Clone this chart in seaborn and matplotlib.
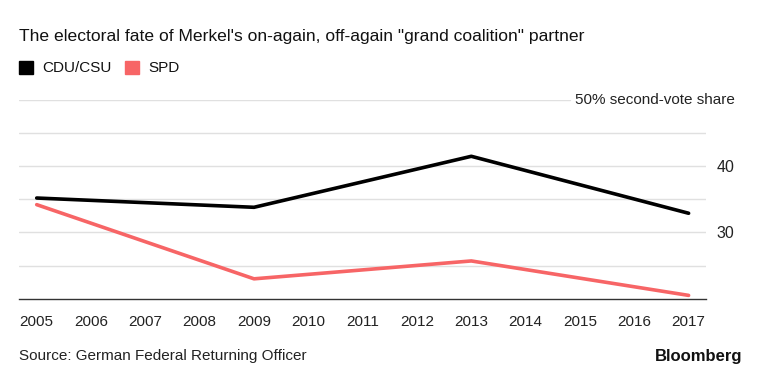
import pandas as pd
import matplotlib.pyplot as plt
import seaborn as sns
from matplotlib.patches import Rectangle

# values
years = [2005, 2009, 2013, 2017]
cdu_csu = [35.2, 33.8, 41.5, 32.9]
spd = [34.2, 23.0, 25.7, 20.5]
parties = ["CDU/CSU", "SPD"]
colors = ["#000000", "#f76566"]
year_ticks = list(range(2005, 2018))

df = pd.DataFrame({
    "year": years * 2,
    "share": cdu_csu + spd,
    "party": [parties[0]] * len(years) + [parties[1]] * len(years),
})

sns.set_style("white")
plt.rcParams["font.family"] = ["Liberation Sans", "DejaVu Sans"]

fig = plt.figure(figsize=(7.59, 3.74), dpi=100)
ax = fig.add_axes([19 / 759, 1 - 298.7 / 374, 687 / 759, 198.7 / 374])

# gridlines
for g in [25, 30, 35, 40, 45]:
    ax.axhline(g, color="#e0e0e0", lw=1, zorder=0)
ax.axhline(50, xmax=(570 - 19) / 687, color="#e0e0e0", lw=1, zorder=0)

sns.lineplot(data=df, x="year", y="share", hue="party", palette=colors,
             linewidth=2.6, legend=False, ax=ax)

ax.set_xlim(2004.674, 2017.32)
ax.set_ylim(20, 50)
ax.set_xlabel("")
ax.set_ylabel("")

ax.set_xticks(year_ticks)
ax.set_xticklabels([str(y) for y in year_ticks], fontsize=11, color="#222222")
ax.tick_params(axis="x", length=5, width=1, color="#333333", pad=7, direction="out")

ax.yaxis.tick_right()
ax.set_yticks([30, 40])
ax.set_yticklabels(["30", "40"], fontsize=11.5, color="#222222")
ax.tick_params(axis="y", length=0, pad=7.5)
ax.text((735 - 19) / 687, 50, "50% second-vote share", transform=ax.get_yaxis_transform(),
        ha="right", va="center", fontsize=11, color="#222222")

for s in ["top", "left", "right"]:
    ax.spines[s].set_visible(False)
ax.spines["bottom"].set_color("#333333")
ax.spines["bottom"].set_linewidth(1)

# title, legend, footer
fig.text(19 / 759, 1 - 37 / 374, "The electoral fate of Merkel's on-again, off-again \"grand coalition\" partner",
         fontsize=12.6, va="center", ha="left", color="#111111")
fig.patches.append(Rectangle((19 / 759, 1 - 74 / 374), 14 / 759, 13 / 374,
                             transform=fig.transFigure, color=colors[0]))
fig.text(42 / 759, 1 - 68 / 374, parties[0], fontsize=11, va="center", color="#111111")
fig.patches.append(Rectangle((125 / 759, 1 - 74 / 374), 14 / 759, 13 / 374,
                             transform=fig.transFigure, color=colors[1]))
fig.text(148 / 759, 1 - 68 / 374, parties[1], fontsize=11, va="center", color="#111111")

fig.text(19 / 759, 1 - 356 / 374, "Source: German Federal Returning Officer",
         fontsize=11, va="center", color="#222222")
fig.text(742 / 759, 1 - 356 / 374, "Bloomberg", fontsize=12, fontweight="bold",
         va="center", ha="right", color="#111111")

fig.savefig("out.png", dpi=100)
